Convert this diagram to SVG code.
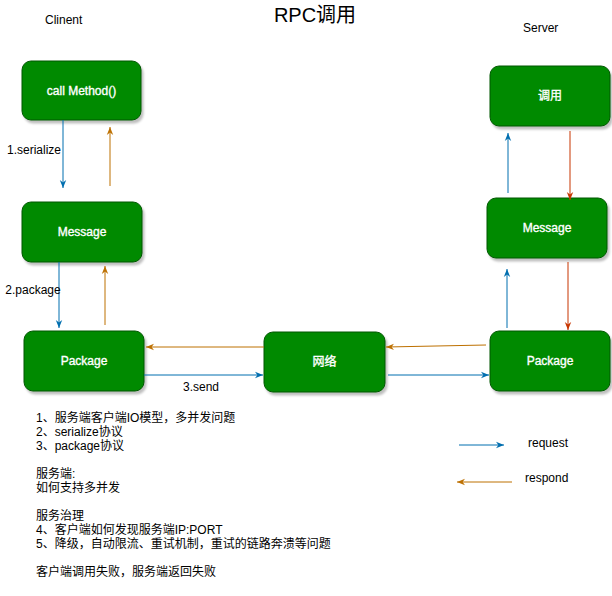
<svg xmlns="http://www.w3.org/2000/svg" width="612" height="596" viewBox="0 0 612 596">
<style>
  .node rect.box { fill: #008a00; stroke: #005700; stroke-width: 1; filter: url(#sh); }
  .node text { fill: #ffffff; stroke: #ffffff; stroke-width: 0.35; font-family: "Liberation Sans", "Noto Sans CJK SC", sans-serif; font-size: 12px; text-anchor: middle; dominant-baseline: central; }
  .lbl { fill: #000; font-family: "Liberation Sans", "Noto Sans CJK SC", sans-serif; font-size: 12px; }
  .title { fill: #000; font-family: "Liberation Sans", "Noto Sans CJK SC", sans-serif; font-size: 20px; text-anchor: middle; }
  .req { stroke: #006eaf; stroke-width: 1; fill: none; marker-end: url(#mBlue); }
  .res { stroke: #bd7000; stroke-width: 1; fill: none; marker-end: url(#mOrange); }
  .red { stroke: #c73500; stroke-width: 1; fill: none; marker-end: url(#mRed); }
</style>
<defs>
  <filter id="sh" x="-10%" y="-10%" width="130%" height="140%">
    <feDropShadow dx="2" dy="3" stdDeviation="1" flood-color="#000" flood-opacity="0.25"/>
  </filter>
  <marker id="mBlue" viewBox="0 0 10 10" refX="10" refY="5" markerWidth="8" markerHeight="8" markerUnits="userSpaceOnUse" orient="auto">
    <path d="M0,1 L10,5 L0,9 L3,5 Z" fill="#006eaf"/>
  </marker>
  <marker id="mOrange" viewBox="0 0 10 10" refX="10" refY="5" markerWidth="8" markerHeight="8" markerUnits="userSpaceOnUse" orient="auto">
    <path d="M0,1 L10,5 L0,9 L3,5 Z" fill="#bd7000"/>
  </marker>
  <marker id="mRed" viewBox="0 0 10 10" refX="10" refY="5" markerWidth="8" markerHeight="8" markerUnits="userSpaceOnUse" orient="auto">
    <path d="M0,1 L10,5 L0,9 L3,5 Z" fill="#c73500"/>
  </marker>
</defs>
<rect width="612" height="596" fill="#ffffff"/>

<text class="title" x="315" y="22">RPC调用</text>
<text class="lbl" x="45" y="24">Clinent</text>
<text class="lbl" x="523" y="32">Server</text>

<g id="callMethod" class="node"><rect class="box" x="22" y="61" width="119" height="59" rx="9"/><text x="81.5" y="90.5">call Method()</text></g>
<g id="clientMessage" class="node"><rect class="box" x="22" y="202" width="120" height="60" rx="9"/><text x="82" y="232">Message</text></g>
<g id="clientPackage" class="node"><rect class="box" x="24" y="331" width="120" height="60" rx="9"/><text x="84" y="361">Package</text></g>
<g id="network" class="node"><rect class="box" x="264" y="332" width="121" height="60" rx="9"/><text x="324.5" y="362">网络</text></g>
<g id="serverPackage" class="node"><rect class="box" x="490" y="331" width="120" height="60" rx="9"/><text x="550" y="361">Package</text></g>
<g id="serverMessage" class="node"><rect class="box" x="487" y="198" width="120" height="60" rx="9"/><text x="547" y="228">Message</text></g>
<g id="serverInvoke" class="node"><rect class="box" x="490" y="66" width="120" height="60" rx="9"/><text x="550" y="96">调用</text></g>

<g id="connectors">
  <line class="req" x1="63" y1="120" x2="63" y2="188"/>
  <line class="res" x1="110" y1="186" x2="110" y2="127"/>
  <line class="req" x1="59" y1="262" x2="59" y2="328"/>
  <line class="res" x1="105" y1="325" x2="105" y2="266"/>
  <line class="res" x1="264" y1="347" x2="146" y2="347"/>
  <line class="req" x1="144" y1="375" x2="263" y2="375"/>
  <line class="res" x1="486" y1="345" x2="386" y2="347"/>
  <line class="req" x1="388" y1="375" x2="489" y2="375"/>
  <line class="req" x1="507" y1="328" x2="507" y2="269"/>
  <line class="red" x1="568" y1="262" x2="568" y2="330"/>
  <line class="req" x1="508" y1="193" x2="508" y2="133"/>
  <line class="red" x1="570" y1="131" x2="570" y2="200"/>
  <text class="lbl" x="34" y="154" text-anchor="middle">1.serialize</text>
  <text class="lbl" x="33" y="294" text-anchor="middle">2.package</text>
  <text class="lbl" x="201" y="391" text-anchor="middle">3.send</text>
</g>

<g id="legend">
  <line class="req" x1="459" y1="445" x2="504" y2="445"/>
  <text class="lbl" x="528" y="447">request</text>
  <line class="res" x1="512" y1="482" x2="457" y2="482"/>
  <text class="lbl" x="525" y="482">respond</text>
</g>

<g id="notes" class="lbl">
  <text x="36" y="422">1、服务端客户端IO模型，多并发问题</text>
  <text x="36" y="436">2、serialize协议</text>
  <text x="36" y="450">3、package协议</text>
  <text x="36" y="478">服务端:</text>
  <text x="36" y="492">如何支持多并发</text>
  <text x="36" y="520">服务治理</text>
  <text x="36" y="534">4、客户端如何发现服务端IP:PORT</text>
  <text x="36" y="548">5、降级，自动限流、重试机制，重试的链路奔溃等问题</text>
  <text x="36" y="576">客户端调用失败，服务端返回失败</text>
</g>
</svg>
